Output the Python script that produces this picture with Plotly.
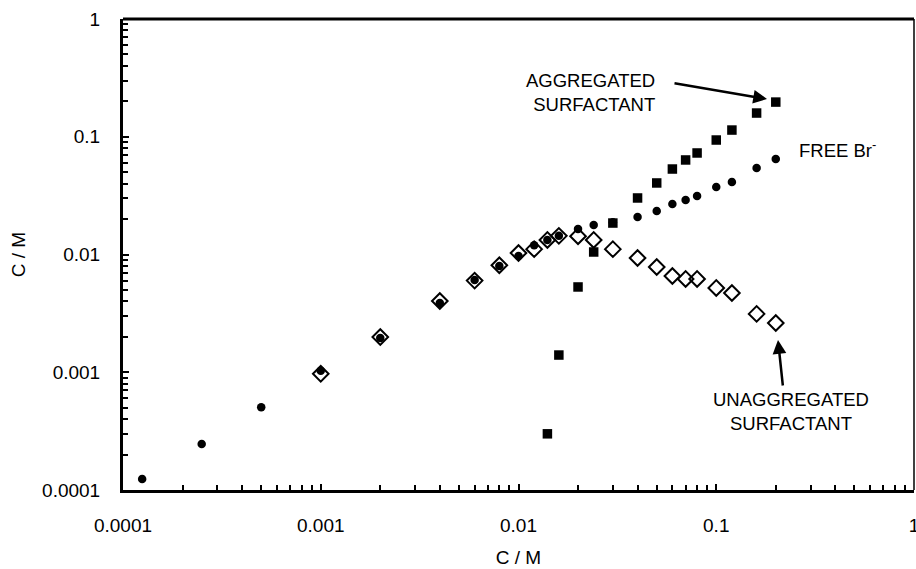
import plotly.graph_objects as go

# ---- data ----
conc_free = [0.000125, 0.00025, 0.0005, 0.001, 0.002, 0.004, 0.006, 0.008, 0.01, 0.012,
             0.014, 0.016, 0.02, 0.024, 0.03, 0.04, 0.05, 0.06, 0.07, 0.08, 0.1, 0.12, 0.16, 0.2]
free_br = [0.000124, 0.000246, 0.000505, 0.00103, 0.00195, 0.00388, 0.00607, 0.0080, 0.0097, 0.0120,
           0.0133, 0.0144, 0.0165, 0.0178, 0.0188, 0.0208, 0.0234, 0.0268, 0.0290, 0.0314, 0.0374,
           0.0413, 0.0543, 0.0648]

conc_unagg = [0.001, 0.002, 0.004, 0.006, 0.008, 0.01, 0.012, 0.014, 0.016, 0.02, 0.024, 0.03,
              0.04, 0.05, 0.06, 0.07, 0.08, 0.1, 0.12, 0.16, 0.2]
unagg = [0.00097, 0.00199, 0.00403, 0.0060, 0.0081, 0.0103, 0.0111, 0.0133, 0.0144, 0.0143, 0.0133,
         0.0111, 0.00934, 0.00783, 0.00657, 0.0062, 0.0062, 0.0052, 0.00471, 0.00313, 0.00262]

conc_agg = [0.014, 0.016, 0.02, 0.024, 0.03, 0.04, 0.05, 0.06, 0.07, 0.08, 0.1, 0.12, 0.16, 0.2]
agg = [0.00030, 0.0014, 0.0053, 0.0105, 0.0185, 0.0302, 0.0405, 0.0532, 0.0635, 0.0728, 0.0938,
       0.114, 0.159, 0.197]

tick_vals = [0.0001, 0.001, 0.01, 0.1, 1]
tick_text = ["0.0001", "0.001", "0.01", "0.1", "1"]

# ---- layout geometry ----
W, H = 916, 569
ML, MR, MT, MB = 123, 2, 19, 79
PW, PH = W - ML - MR, H - MT - MB

def px(xp):
    return (xp - ML) / PW

def py(yp):
    return (H - MB - yp) / PH

FONT = "Liberation Sans, Arial, Helvetica, sans-serif"
INK = "#000000"

fig = go.Figure()
fig.add_trace(go.Scatter(
    x=conc_unagg, y=unagg, mode="markers", name="Unaggregated surfactant",
    marker=dict(symbol="diamond-open", size=12, color=INK, line=dict(width=2, color=INK)),
))
fig.add_trace(go.Scatter(
    x=conc_free, y=free_br, mode="markers", name="Free Br-",
    marker=dict(symbol="circle", size=8.5, color=INK),
))
fig.add_trace(go.Scatter(
    x=conc_agg, y=agg, mode="markers", name="Aggregated surfactant",
    marker=dict(symbol="square", size=9.5, color=INK),
))

axis_common = dict(
    type="log", tickvals=tick_vals, ticktext=tick_text, automargin=False,
    showline=True, linewidth=3, linecolor=INK, mirror=False,
    ticks="inside", ticklen=6, tickwidth=2, tickcolor=INK,
    minor=dict(ticks="inside", ticklen=5, tickwidth=2, tickcolor=INK, dtick="D1", showgrid=False),
    showgrid=False, zeroline=False, ticklabeloverflow="allow",
    tickfont=dict(family=FONT, size=19, color=INK),
)

fig.update_xaxes(range=[-4, 0], ticklabelstandoff=16,
                 title=dict(text="C / M", font=dict(family=FONT, size=19, color=INK), standoff=16),
                 **axis_common)
fig.update_yaxes(range=[-4, 0], ticklabelstandoff=16,
                 title=dict(text="C / M", font=dict(family=FONT, size=19, color=INK), standoff=12),
                 **axis_common)

# frame: thick top, thin right
fig.add_shape(type="line", xref="paper", yref="paper", x0=0, x1=1, y0=1, y1=1,
              line=dict(color=INK, width=3))
fig.add_shape(type="line", xref="paper", yref="paper", x0=1, x1=1, y0=0, y1=1,
              line=dict(color=INK, width=1.5))

ann_font = dict(family=FONT, size=18.5, color=INK)
annotations = [
    dict(x=px(657), y=py(93), xref="paper", yref="paper", text="AGGREGATED<br>SURFACTANT",
         showarrow=False, xanchor="right", yanchor="middle", align="right", font=ann_font),
    dict(x=px(797), y=py(149), xref="paper", yref="paper", text="FREE Br<sup>-</sup>",
         showarrow=False, xanchor="left", yanchor="middle", font=ann_font),
    dict(x=px(791), y=py(411), xref="paper", yref="paper", text="UNAGGREGATED<br>SURFACTANT",
         showarrow=False, xanchor="center", yanchor="middle", align="center", font=ann_font),
    dict(x=px(767), y=py(99), xref="paper", yref="paper", text="", showarrow=True,
         ax=-94, ay=-16, arrowhead=2, arrowsize=1.1, arrowwidth=2.5, arrowcolor=INK, standoff=0),
    dict(x=px(778), y=py(340), xref="paper", yref="paper", text="", showarrow=True,
         ax=5, ay=47, arrowhead=2, arrowsize=1.1, arrowwidth=2.5, arrowcolor=INK, standoff=0),
]

fig.update_layout(
    width=W, height=H,
    margin=dict(l=ML, r=MR, t=MT, b=MB),
    paper_bgcolor="white", plot_bgcolor="white",
    showlegend=False,
    annotations=annotations,
    font=dict(family=FONT, color=INK),
)

fig.write_html("out.html")
